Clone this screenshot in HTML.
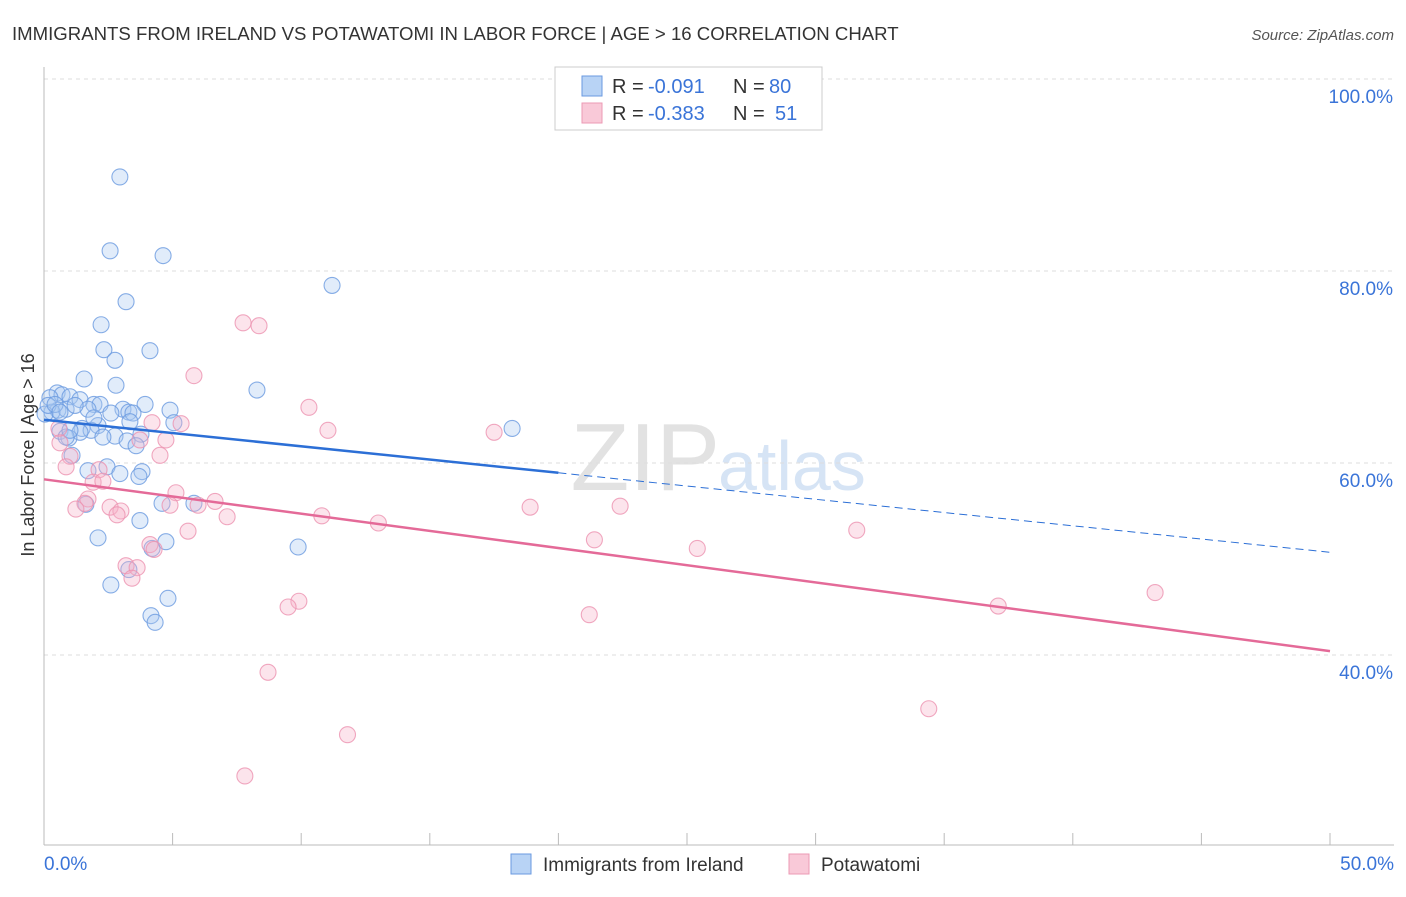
<!DOCTYPE html>
<html><head><meta charset="utf-8"><style>
body{margin:0;background:#fff;font-family:"Liberation Sans",sans-serif}
svg text{font-family:"Liberation Sans",sans-serif}
</style></head><body>
<svg id="c" width="1406" height="892">
<text x="12" y="40" font-size="18.6" fill="#333">IMMIGRANTS FROM IRELAND VS POTAWATOMI IN LABOR FORCE | AGE &gt; 16 CORRELATION CHART</text>
<text x="1394" y="40" font-size="15" fill="#555" font-style="italic" text-anchor="end">Source: ZipAtlas.com</text>
<text x="720" y="490" font-size="96" fill="#e2e2e2" text-anchor="end" font-family="Liberation Serif">ZIP</text>
<text x="718" y="490" font-size="70" fill="#d6e4f5">atlas</text>
<text transform="translate(34,455) rotate(-90)" font-size="18" fill="#333" text-anchor="middle">In Labor Force | Age &gt; 16</text>
<g id="grid"></g><g id="marks"></g>
<g>
<rect x="555" y="67" width="267" height="63" fill="#fff" stroke="#ccc"/>
<rect x="582" y="76" width="20" height="20" fill="#b8d3f5" stroke="#6a9ae0"/>
<rect x="582" y="103" width="20" height="20" fill="#f9c9d8" stroke="#ec9ab4"/>
<text y="93" font-size="20" fill="#333"><tspan x="612">R =</tspan><tspan x="648" fill="#3a74d8">-0.091</tspan><tspan x="733">N =</tspan><tspan x="769" fill="#3a74d8">80</tspan></text>
<text y="120" font-size="20" fill="#333"><tspan x="612">R =</tspan><tspan x="648" fill="#3a74d8">-0.383</tspan><tspan x="733">N =</tspan><tspan x="775" fill="#3a74d8">51</tspan></text>
</g>
<g>
<rect x="511" y="854" width="20" height="20" fill="#b8d3f5" stroke="#6a9ae0"/>
<text x="543" y="871" font-size="19" fill="#333">Immigrants from Ireland</text>
<rect x="789" y="854" width="20" height="20" fill="#f9c9d8" stroke="#ec9ab4"/>
<text x="821" y="871" font-size="19" fill="#333">Potawatomi</text>
</g>
</svg>
<script>
const blueX=[2.95,2.57,4.63,11.2,3.19,2.22,2.33,4.12,2.76,1.56,2.80,8.28,0.51,0.70,0.23,1.01,1.40,1.94,3.93,2.18,3.07,4.90,3.30,3.46,0.54,0.86,1.71,2.60,0.31,0.04,3.34,5.05,2.10,1.48,1.83,0.62,1.40,2.76,3.77,2.29,0.97,0.86,3.23,3.58,18.2,1.09,2.45,1.71,3.81,2.95,3.69,1.63,4.59,5.83,3.73,2.10,4.74,4.20,9.88,3.30,2.60,4.82,4.16,4.32,0.16,0.43,0.62,1.21,1.01,1.94];
const blueY=[89.8,82.1,81.6,78.5,76.8,74.4,71.8,71.7,70.7,68.75,68.1,67.6,67.3,67.1,66.8,66.9,66.6,66.1,66.1,66.1,65.6,65.5,65.3,65.2,65.5,65.6,65.6,65.2,65.3,65.1,64.3,64.2,63.9,63.6,63.4,63.3,63.2,62.8,63.0,62.7,62.6,62.7,62.3,61.8,63.6,60.8,59.6,59.2,59.1,58.9,58.6,55.7,55.8,55.8,54.0,52.2,51.8,51.1,51.25,48.9,47.3,45.9,44.1,43.4,66.0,66.1,65.3,66.0,63.4,64.7];
const pinkX=[7.74,8.36,5.83,10.3,4.20,5.33,11.04,17.5,0.58,0.62,4.74,3.73,4.51,1.01,0.86,2.14,1.91,2.29,5.13,1.71,1.59,6.65,5.99,4.90,1.24,2.57,2.99,2.84,7.12,10.8,13.0,18.9,22.4,5.60,31.6,21.4,25.4,4.12,4.28,3.19,3.62,3.42,9.91,9.49,37.1,43.2,21.2,8.71,34.4,11.8,7.81];
const pinkY=[74.6,74.3,69.1,65.8,64.2,64.1,63.4,63.2,63.6,62.1,62.4,62.4,60.8,60.7,59.6,59.3,58.0,58.1,56.9,56.25,55.8,56.0,55.6,55.6,55.2,55.4,55.0,54.6,54.4,54.5,53.75,55.4,55.5,52.9,53.0,52.0,51.1,51.5,51.0,49.3,49.1,48.0,45.6,45.0,45.1,46.5,44.2,38.2,34.4,31.7,27.4];
const blueTrend=[64.5,50.7];
const pinkTrend=[58.3,40.4];
const yTicks=[100,80,60,40];
const yTickLabels=["100.0%","80.0%","60.0%","40.0%"];
const xTickLabels=["0.0%","50.0%"];
const NS="http://www.w3.org/2000/svg";
const sx=v=>44+v/50*1286, sy=v=>79+(100-v)*9.6;
function mk(p,t,a){const e=document.createElementNS(NS,t);for(const k in a)e.setAttribute(k,a[k]);p.appendChild(e);return e;}
const g=document.getElementById('grid'),m=document.getElementById('marks');
yTicks.forEach((t,i)=>{
 const l=mk(g,'line',{x1:44,x2:1394,y1:sy(t),y2:sy(t),stroke:'#ddd','stroke-dasharray':'4,4'});
 
 
 const tx=mk(g,'text',{x:1393,y:sy(t)+24,'font-size':19,fill:'#3a74d8','text-anchor':'end'});
 tx.textContent=yTickLabels[i];
 
 
});
const ax=mk(g,'line',{x1:44,x2:44,y1:67,y2:845,stroke:'#bbb'});


const bx=mk(g,'line',{x1:44,x2:1394,y1:845,y2:845,stroke:'#bbb'});


for(let i=0;i<=10;i++){const t=mk(g,'line',{x1:sx(i*5),x2:sx(i*5),y1:833,y2:845,stroke:'#bbb'});
 
 }
[[0,'start',44],[50,'end',1394]].forEach((d,i)=>{const t=mk(g,'text',{x:d[2],y:870,'font-size':19,fill:'#3a74d8','text-anchor':d[1]});t.textContent=xTickLabels[i];
 
 });
function pts(X,Y,fill,stroke,name){X.forEach((x,i)=>{const c=mk(m,'circle',{cx:sx(x),cy:sy(Y[i]),r:8,fill:fill,'fill-opacity':0.35,stroke:stroke,'stroke-opacity':0.8,'stroke-width':1.1});
 
 });}
pts(blueX,blueY,'#a8c8f0','#6a9ae0','ireland-point');
pts(pinkX,pinkY,'#f6b3c8','#ec92b0','potawatomi-point');
const bm=blueTrend[0]+(blueTrend[1]-blueTrend[0])*0.4;
let l1=mk(m,'line',{x1:sx(0),y1:sy(blueTrend[0]),x2:sx(20),y2:sy(bm),stroke:'#2c6fd6','stroke-width':2.5});


let l2=mk(m,'line',{x1:sx(20),y1:sy(bm),x2:sx(50),y2:sy(blueTrend[1]),stroke:'#2c6fd6','stroke-width':1,'stroke-dasharray':'8,5'});


let l3=mk(m,'line',{x1:sx(0),y1:sy(pinkTrend[0]),x2:sx(50),y2:sy(pinkTrend[1]),stroke:'#e46a98','stroke-width':2.5});


</script>
</body></html>
